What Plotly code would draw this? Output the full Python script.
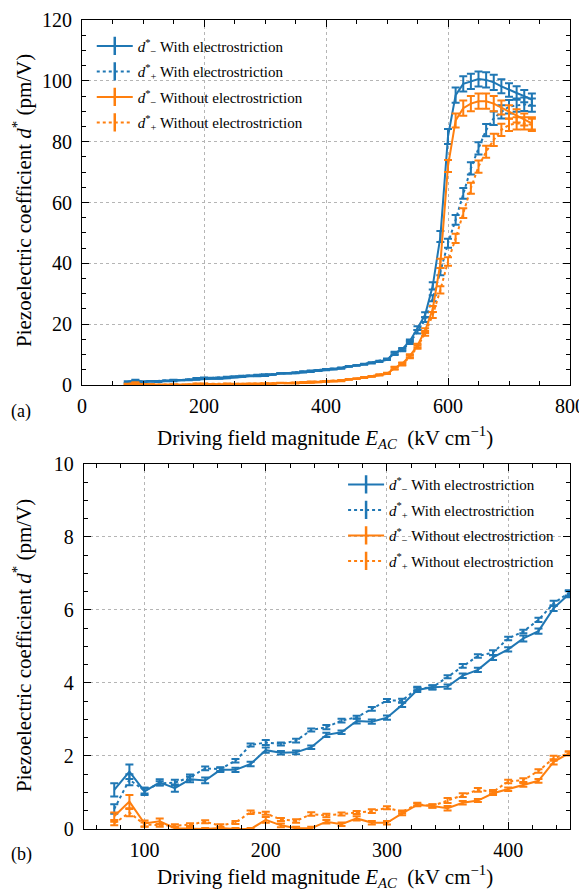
import plotly.graph_objects as go

# ---------------- data ----------------
field = [75, 87.5, 100, 112.5, 125, 137.5, 150, 162.5, 175, 187.5,
         200, 212.5, 225, 237.5, 250, 262.5, 275, 287.5, 300, 312.5,
         325, 337.5, 350, 362.5, 375, 387.5, 400, 412.5, 425, 437.5,
         450, 462.5, 475, 487.5, 500, 512.5, 525, 537.5, 550, 562.5,
         575, 587.5, 600, 612.5, 625, 637.5, 650, 662.5, 675, 687.5,
         700, 712.5, 725, 737.5]

dminus_with = [1.07, 1.57, 1.03, 1.28, 1.12, 1.36, 1.33, 1.62, 1.62, 1.78,
               2.16, 2.09, 2.10, 2.24, 2.58, 2.65, 2.96, 2.94, 3.05, 3.40,
               3.81, 3.88, 3.90, 4.20, 4.36, 4.70, 4.92, 5.22, 5.42, 6.05,
               6.43, 6.8, 7.2, 7.7, 8.3, 10.5, 11.8, 14.5, 18.7, 23.1,
               32.6, 48.8, 81.7, 95.3, 99.0, 99.8, 100.6, 100.3, 99.5, 98.2,
               97.0, 96.0, 95.0, 93.8]
dplus_with = [0.55, 1.35, 1.05, 1.25, 1.27, 1.42, 1.66, 1.64, 1.87, 2.30,
              2.37, 2.33, 2.42, 2.71, 2.79, 2.97, 3.06, 3.29, 3.52, 3.52,
              3.85, 3.88, 4.17, 4.47, 4.74, 4.83, 5.22, 5.41, 5.73, 6.18,
              6.47, 6.9, 7.4, 7.9, 8.6, 10.3, 11.5, 14.0, 17.5, 21.5,
              28.5, 37.3, 46.6, 54.3, 63.0, 71.2, 77.8, 83.8, 87.7, 89.8,
              91.5, 92.0, 92.3, 92.0]
dminus_without = [0.35, 0.75, 0.15, 0.21, 0.02, 0.0, 0.0, 0.03, 0.0, 0.0,
                  0.25, 0.10, 0.02, 0.02, 0.20, 0.13, 0.29, 0.17, 0.17, 0.43,
                  0.66, 0.63, 0.57, 0.72, 0.78, 0.98, 1.09, 1.21, 1.32, 1.84,
                  2.07, 2.4, 2.8, 3.2, 3.7, 5.6, 7.0, 9.6, 13.0, 17.9,
                  25.0, 40.0, 72.0, 87.0, 91.0, 92.5, 93.3, 93.3, 92.5, 91.2,
                  89.8, 88.5, 87.3, 86.0]
dplus_without = [0.15, 0.45, 0.12, 0.10, 0.09, 0.12, 0.20, 0.09, 0.18, 0.46,
                 0.43, 0.26, 0.22, 0.41, 0.37, 0.41, 0.45, 0.49, 0.58, 0.47,
                 0.68, 0.63, 0.78, 0.93, 1.07, 1.02, 1.30, 1.34, 1.59, 1.94,
                 2.07, 2.5, 2.9, 3.4, 3.9, 5.5, 6.8, 9.3, 12.5, 17.0,
                 23.0, 31.3, 40.6, 48.2, 56.5, 64.7, 71.8, 76.7, 80.6, 83.9,
                 85.5, 86.0, 86.0, 85.5]

err_dminus_with = [0.18, 0.2, 0.1, 0.08, 0.1, 0.08, 0.08, 0.06, 0.06, 0.06,
                   0.07, 0.05, 0.05, 0.05, 0.06, 0.05, 0.07, 0.06, 0.06, 0.06,
                   0.06, 0.06, 0.06, 0.06, 0.06, 0.07, 0.06, 0.08, 0.07, 0.08,
                   0.08, 0.1, 0.1, 0.1, 0.1, 0.4, 0.4, 0.5, 0.6, 0.8,
                   1.2, 1.8, 2.5, 2.5, 2.5, 2.5, 2.5, 2.5, 2.5, 2.3,
                   2.2, 2.2, 2.0, 2.0]
err_dplus_with = [0.13, 0.15, 0.08, 0.06, 0.08, 0.07, 0.05, 0.05, 0.05, 0.04,
                  0.07, 0.04, 0.05, 0.04, 0.06, 0.05, 0.04, 0.05, 0.04, 0.05,
                  0.05, 0.05, 0.04, 0.05, 0.05, 0.07, 0.05, 0.05, 0.06, 0.07,
                  0.07, 0.1, 0.1, 0.1, 0.1, 0.4, 0.4, 0.5, 0.6, 0.8,
                  1.0, 1.2, 1.5, 1.6, 1.8, 2.0, 2.0, 2.0, 2.2, 2.2,
                  2.2, 2.2, 2.2, 2.2]
err_dminus_without = [0.1, 0.18, 0.08, 0.08, 0.05, 0.03, 0.03, 0.03, 0.03, 0.03,
                      0.08, 0.05, 0.04, 0.04, 0.05, 0.05, 0.06, 0.05, 0.05, 0.05,
                      0.04, 0.05, 0.06, 0.05, 0.04, 0.05, 0.05, 0.05, 0.05, 0.07,
                      0.05, 0.1, 0.1, 0.1, 0.1, 0.4, 0.4, 0.5, 0.6, 0.8,
                      1.0, 1.5, 2.0, 2.3, 2.5, 2.5, 2.5, 2.5, 2.5, 2.3,
                      2.2, 2.2, 2.0, 2.0]
err_dplus_without = [0.05, 0.1, 0.06, 0.04, 0.04, 0.04, 0.04, 0.04, 0.04, 0.05,
                     0.04, 0.04, 0.05, 0.05, 0.05, 0.04, 0.04, 0.05, 0.04, 0.04,
                     0.04, 0.04, 0.07, 0.05, 0.05, 0.05, 0.05, 0.05, 0.05, 0.07,
                     0.05, 0.1, 0.1, 0.1, 0.1, 0.4, 0.4, 0.5, 0.6, 0.8,
                     1.0, 1.2, 1.4, 1.5, 1.6, 1.8, 2.0, 2.0, 2.0, 2.0,
                     2.0, 2.0, 2.0, 2.0]

series_names = ["<i>d</i><sup>*</sup><sub>−</sub> With electrostriction",
                "<i>d</i><sup>*</sup><sub>+</sub> With electrostriction",
                "<i>d</i><sup>*</sup><sub>−</sub> Without electrostriction",
                "<i>d</i><sup>*</sup><sub>+</sub> Without electrostriction"]

# ---------------- styling ----------------
BLUE = "#1f77b4"
ORANGE = "#ff7f0e"
FONT = "'Liberation Serif', 'Times New Roman', Times, serif"
series = [
    (dminus_with, err_dminus_with, BLUE, "solid"),
    (dplus_with, err_dplus_with, BLUE, "dot"),
    (dminus_without, err_dminus_without, ORANGE, "solid"),
    (dplus_without, err_dplus_without, ORANGE, "dot"),
]

fig = go.Figure()
for xa, ya, leg in [("x", "y", "legend"), ("x2", "y2", "legend2")]:
    for (vals, errs, col, dash), name in zip(series, series_names):
        fig.add_trace(go.Scatter(
            x=field, y=vals, mode="lines", xaxis=xa, yaxis=ya,
            line=dict(color=col, width=2, dash=dash),
            error_y=dict(type="data", array=errs, visible=True,
                         color=col, thickness=2, width=4),
            showlegend=False, cliponaxis=True))
    for i, ((vals, errs, col, dash), name) in enumerate(zip(series, series_names)):
        fig.add_trace(go.Scatter(
            x=[None], y=[None], mode="lines+markers", xaxis=xa, yaxis=ya,
            name=name, legend=leg, legendgroup=f"{leg}_{i}",
            line=dict(color=col, width=2, dash=dash),
            marker=dict(symbol="line-ns-open", size=13,
                        line=dict(color=col, width=2.5))))

axis_common = dict(
    showline=True, linecolor="black", linewidth=1.2, mirror="ticks",
    ticks="inside", ticklen=7, tickwidth=1.2, tickcolor="black",
    showgrid=True, gridcolor="#b5b5b5", griddash="dot", gridwidth=1,
    zeroline=False, automargin=False,
    tickfont=dict(family=FONT, size=20, color="black"),
)
minor_common = dict(ticks="inside", ticklen=4, tickwidth=1, tickcolor="black", showgrid=False)

xtitle = "Driving field magnitude <i>E<sub>AC</sub></i>  (kV cm<sup>−1</sup>)"
ytitle = "Piezoelectric coefficient <i>d</i><sup>*</sup> (pm/V)"

def ann(text, x, y, angle=0, size=21):
    return dict(text=text, x=x, y=y, xref="paper", yref="paper", showarrow=False,
                xanchor="center", yanchor="middle", textangle=angle,
                font=dict(family=FONT, size=size, color="black"))

# page body has an 8px margin: figure is shrunk so the plot areas land where the reference has them
fig.update_layout(
    width=579, height=882,
    margin=dict(l=74, r=17, t=12, b=61),
    paper_bgcolor="white", plot_bgcolor="white",
    font=dict(family=FONT, color="black"),
    xaxis=dict(domain=[0, 1], anchor="y", range=[0, 800], dtick=200, tick0=0,
               ticklabelstandoff=3,
               minor=dict(dtick=50, **minor_common), **axis_common),
    yaxis=dict(domain=[0.5488, 1], anchor="x", range=[0, 120], dtick=20, tick0=0,
               ticklabelstandoff=5,
               minor=dict(dtick=5, **minor_common), **axis_common),
    xaxis2=dict(domain=[0.004, 1], anchor="y2", range=[50, 451], dtick=100, tick0=0,
                ticklabelstandoff=3,
                minor=dict(dtick=20, tick0=0, **minor_common), **axis_common),
    yaxis2=dict(domain=[0, 0.4512], anchor="x2", range=[0, 10], dtick=2, tick0=0,
                ticklabelstandoff=5,
                minor=dict(dtick=0.5, **minor_common), **axis_common),
    legend=dict(x=0.02, y=0.988, xanchor="left", yanchor="top",
                bgcolor="rgba(0,0,0,0)", itemwidth=36, tracegroupgap=3,
                font=dict(family=FONT, size=15, color="black")),
    legend2=dict(x=0.535, y=0.446, xanchor="left", yanchor="top",
                 bgcolor="rgba(0,0,0,0)", itemwidth=36, tracegroupgap=3,
                 font=dict(family=FONT, size=15, color="black")),
    annotations=[
        ann(xtitle, 0.498, 0.4845),
        ann(xtitle, 0.498, -0.0581),
        ann(ytitle, -0.123, 0.7775, angle=-90),
        ann(ytitle, -0.123, 0.2274, angle=-90),
        ann("(a)", -0.125, 0.5165, size=18),
        ann("(b)", -0.125, -0.032, size=18),
    ],
)

fig.write_html("out.html")
